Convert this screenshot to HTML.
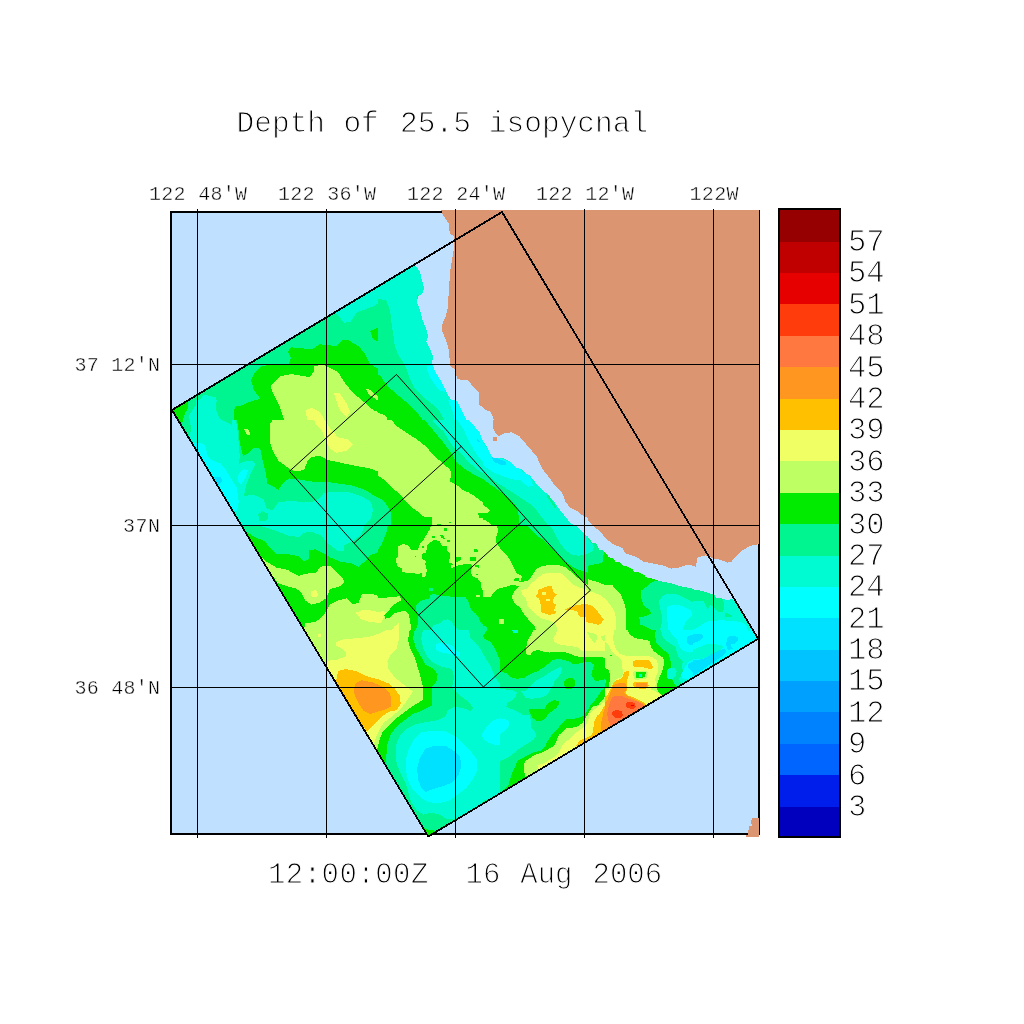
<!DOCTYPE html>
<html><head><meta charset="utf-8"><title>Depth of 25.5 isopycnal</title>
<style>html,body{margin:0;padding:0;background:#fff}svg{display:block}text{font-family:"Liberation Mono",monospace;fill:#000}</style></head><body>
<svg width="1024" height="1024" viewBox="0 0 1024 1024">
<rect width="1024" height="1024" fill="#fff"/>
<g shape-rendering="crispEdges">
<rect x="171" y="212" width="588" height="622" fill="#BFE0FF"/>
<rect x="170" y="211" width="590" height="2" fill="#000"/><rect x="170" y="833" width="590" height="2" fill="#000"/><rect x="170" y="211" width="2" height="624" fill="#000"/><rect x="758" y="211" width="2" height="624" fill="#000"/>
<defs><clipPath id="dom"><polygon points="172,410 502,212 758.2,638.8 428.2,836.5"/></clipPath>
<clipPath id="t0"><rect x="168" y="210" width="210" height="210"/></clipPath>
<clipPath id="t1"><rect x="378" y="210" width="210" height="210"/></clipPath>
<clipPath id="t2"><rect x="168" y="420" width="210" height="210"/></clipPath>
<clipPath id="t3"><rect x="378" y="420" width="105" height="105"/></clipPath>
<clipPath id="t4"><rect x="483" y="420" width="105" height="105"/></clipPath>
<clipPath id="t5"><rect x="378" y="525" width="105" height="105"/></clipPath>
<clipPath id="t6"><rect x="483" y="525" width="105" height="105"/></clipPath>
<clipPath id="t7"><rect x="290" y="630" width="210" height="210"/></clipPath>
<clipPath id="t8"><rect x="500" y="630" width="105" height="105"/></clipPath>
<clipPath id="t9"><rect x="605" y="630" width="105" height="105"/></clipPath>
<clipPath id="t10"><rect x="500" y="715" width="105" height="105"/></clipPath>
<clipPath id="t11"><rect x="588" y="525" width="105" height="105"/></clipPath>
<clipPath id="t12"><rect x="693" y="525" width="105" height="105"/></clipPath>
<clipPath id="t13"><rect x="693" y="610" width="105" height="105"/></clipPath>
<clipPath id="t14"><rect x="168" y="400" width="64" height="64"/></clipPath>
</defs>
<g clip-path="url(#dom)">
<rect x="171" y="212" width="588" height="622" fill="#00F590"/>
<g clip-path="url(#t0)">
<polygon points="170.1,406.9 187.5,401.7 188.5,407.9 185.4,415.1 182.4,422.1 170.1,422.1" fill="#00EB00"/>
<polygon points="188.5,422.1 194.7,406.9 203.9,394.6 216.2,397.6 217.2,406.9 214.1,422.1" fill="#00FAD2"/>
<polygon points="336.2,313.6 344.4,322.8 350.5,321.8 356.7,312.5 373.1,306.4 380.1,302.3 380.1,283.8 332.1,308.4" fill="#00FAD2"/>
<polygon points="233.6,422.1 234.7,406.9 243.9,404.8 250.0,401.7 260.3,398.7 254.1,390.5 251.1,380.2 255.2,372.0 261.3,365.9 289.0,363.8 291.0,357.7 288.0,351.5 291.0,347.4 299.2,347.8 311.6,349.5 319.8,344.3 330.0,345.4 336.2,346.4 342.3,340.2 348.5,340.2 358.7,346.4 364.9,353.6 370.0,363.8 380.1,370.0 380.1,422.1" fill="#00EB00"/>
<polygon points="370.0,331.0 380.1,326.9 380.1,342.3 373.1,339.2" fill="#00EB00"/>
<polygon points="270.5,386.4 280.8,376.1 291.0,374.1 309.5,377.1 313.6,372.0 314.6,365.9 323.9,364.8 332.1,368.9 338.2,372.0 344.4,382.3 352.6,392.5 364.9,402.8 373.1,410.0 380.1,413.0 380.1,422.1 284.9,422.1 279.8,406.9 272.6,392.5" fill="#BEFF64"/>
<polygon points="365.9,388.4 371.0,390.5 380.1,398.7 380.1,401.7 373.1,397.6 368.0,393.5" fill="#BEFF64"/>
<polygon points="334.1,393.5 339.2,392.5 346.4,402.8 350.5,412.0 346.4,417.1 340.3,411.0 336.2,400.7" fill="#F0FF64"/>
<polygon points="305.4,410.0 311.6,407.9 319.8,412.0 325.9,422.1 307.5,422.1" fill="#F0FF64"/>
</g>
<g clip-path="url(#t1)">
<polygon points="375.9,281.8 375.9,298.6 386.2,300.2 389.3,308.4 390.7,315.0 391.7,325.3 393.4,335.5 394.8,345.8 398.5,355.0 403.6,363.2 407.1,370.4 409.8,378.6 414.9,388.8 421.1,395.0 427.2,400.1 433.4,405.2 439.5,411.4 445.7,422.1 521.6,422.1 521.6,210.0 439.5,210.0" fill="#00FAD2"/>
<polygon points="417.0,295.1 422.1,294.5 421.5,306.4 418.0,303.3" fill="#00F590"/>
<polygon points="427.2,365.7 433.8,365.2 436.9,370.4 440.5,377.5 444.7,386.8 445.1,391.9 439.5,390.3 433.8,383.1 429.7,376.5 427.4,370.4" fill="#00FFFF"/>
<polygon points="448.1,400.1 453.9,400.5 459.0,400.1 464.1,409.3 468.2,417.5 470.3,422.1 454.3,422.1 453.3,413.4 450.2,405.2" fill="#00FFFF"/>
<polygon points="375.9,373.0 381.1,376.5 384.2,381.7 389.3,387.8 395.4,392.9 401.6,398.1 407.7,403.2 412.9,408.3 418.0,413.4 424.1,422.1 375.9,422.1" fill="#00EB00"/>
<polygon points="375.9,412.8 382.1,413.8 386.2,415.9 388.3,422.1 375.9,422.1" fill="#BEFF64"/>
</g>
<g clip-path="url(#t2)">
<polygon points="177.2,417.9 191.0,417.9 190.1,429.2 187.5,436.4 182.4,428.2" fill="#00EB00"/>
<polygon points="196.7,417.9 235.7,417.9 237.7,432.3 238.8,444.6 239.8,456.9 238.8,464.1 245.9,461.0 253.1,461.0 255.2,464.1 250.0,475.4 245.9,485.6 243.9,495.9 254.1,494.9 263.4,499.0 266.4,508.2 272.6,510.2 278.7,502.0 291.0,501.0 303.4,502.0 311.6,502.0 319.8,497.9 323.9,492.8 336.2,491.8 348.5,491.8 362.8,496.9 371.0,502.0 373.1,510.2 371.0,518.4 364.9,524.6 360.8,534.8 352.6,541.0 344.4,545.1 344.4,551.2 338.2,551.2 330.0,545.1 323.9,538.9 319.8,534.8 311.6,531.8 303.4,532.8 299.2,536.9 289.0,535.9 278.7,531.8 266.4,527.7 254.1,524.6 241.8,524.6 229.5,510.2 198.8,454.9 194.7,444.6 193.6,432.3" fill="#00FAD2"/>
<polygon points="258.2,514.3 262.3,511.3 267.5,513.3 268.1,518.4 264.4,521.5 259.3,520.5" fill="#00F590"/>
<polygon points="196.7,453.8 200.8,442.6 205.9,445.6 209.0,456.9 217.2,461.0 225.4,469.2 231.6,479.5 236.7,487.7 238.8,502.0 236.7,511.3 229.5,510.2" fill="#00FFFF"/>
<polygon points="214.1,477.4 220.3,476.4 222.3,481.5 218.2,485.6" fill="#00E1FF"/>
<polygon points="238.8,473.3 243.9,469.2 248.0,470.2 245.9,477.4 240.8,484.6 237.7,481.5" fill="#00FFFF"/>
<polygon points="236.7,417.9 238.8,432.3 239.8,442.6 242.9,455.9 249.0,452.8 254.1,447.7 260.3,448.7 262.3,459.0 265.4,471.3 267.5,483.6 278.7,489.7 282.8,483.6 289.0,478.4 299.2,479.5 311.6,481.5 323.9,481.5 338.2,483.6 352.6,485.6 364.9,489.7 373.1,494.9 380.1,499.0 380.1,417.9" fill="#00EB00"/>
<polygon points="269.5,424.1 274.6,417.9 380.1,417.9 380.1,472.3 369.0,468.2 356.7,466.1 342.3,463.1 328.0,460.0 319.8,455.9 311.6,456.9 307.5,461.0 304.4,469.2 299.2,471.3 291.0,470.2 285.9,466.1 278.7,461.0 272.6,450.8 269.5,440.5" fill="#BEFF64"/>
<polygon points="244.3,429.2 248.0,428.6 250.6,434.4 247.0,435.4" fill="#BEFF64"/>
<polygon points="313.6,417.9 323.9,417.9 330.0,428.2 338.2,437.4 348.5,439.5 352.6,444.6 346.4,450.8 336.2,452.8 330.0,448.7 325.9,440.5 321.8,430.3 315.7,424.1" fill="#F0FF64"/>
<polygon points="243.9,529.7 254.1,536.9 264.4,541.0 270.5,548.2 276.7,554.3 289.0,554.3 299.2,556.4 303.4,561.5 308.5,559.5 309.5,550.2 315.7,549.2 323.9,553.3 330.0,557.4 340.3,561.5 352.6,563.6 358.7,566.6 364.9,561.5 370.0,555.4 380.1,551.2 380.1,632.1 299.2,632.1 229.5,522.5" fill="#00EB00"/>
<polygon points="257.2,552.3 266.4,561.5 276.7,567.7 286.9,569.7 299.2,575.9 305.4,573.8 315.7,572.8 320.8,566.6 330.0,565.6 336.2,571.8 342.3,577.9 344.4,582.0 340.3,586.1 330.0,589.2 325.9,598.4 319.8,602.5 311.6,604.6 305.4,600.5 301.3,592.3 295.1,588.2 286.9,586.1 277.7,583.0 250.0,543.0" fill="#BEFF64"/>
<polygon points="310.5,591.2 315.7,590.2 318.7,594.3 315.7,597.4 311.6,596.4" fill="#F0FF64"/>
<polygon points="303.4,632.1 305.4,623.0 315.7,622.0 323.9,614.8 330.0,604.6 338.2,600.5 346.4,598.4 352.6,604.6 358.7,602.5 361.8,594.3 373.1,594.3 380.1,596.4 380.1,632.1" fill="#BEFF64"/>
<polygon points="355.6,612.8 362.8,609.7 373.1,610.7 380.1,612.8 380.1,623.0 369.0,622.0 360.8,618.9" fill="#F0FF64"/>
</g>
<g clip-path="url(#t3)">
<rect x="378" y="420" width="105" height="105" fill="#00EB00"/>
<polygon points="377.0,419.0 390.8,419.0 396.5,426.2 401.6,429.2 408.8,434.4 415.9,438.5 421.1,442.6 427.2,447.7 431.3,452.8 436.4,457.9 441.6,462.0 445.7,466.1 449.8,469.2 450.8,472.3 450.3,481.5 454.9,484.1 459.0,486.7 463.1,490.2 468.2,492.3 474.4,495.9 479.5,500.0 484.0,503.1 484.0,526.0 431.8,526.0 431.8,517.4 423.1,516.4 419.0,512.3 412.9,508.2 408.8,504.1 404.7,500.0 400.6,494.9 394.4,489.7 388.3,483.6 383.1,479.0 377.0,475.4" fill="#BEFF64"/>
<polygon points="478.0,513.3 482.6,512.8 484.0,517.4 479.5,517.9" fill="#00EB00"/>
<polygon points="448.8,521.5 451.3,521.5 451.3,523.1 448.8,523.1" fill="#00EB00"/>
<polygon points="437.0,524.1 440.5,523.8 440.8,526.0 437.0,526.0" fill="#00EB00"/>
<polygon points="423.6,419.0 427.2,423.1 432.3,429.2 437.5,435.4 443.6,442.6 448.8,449.7 452.9,455.9 455.9,461.0 460.0,465.1 465.2,469.2 470.3,472.3 476.4,475.9 484.0,479.5 484.0,419.0" fill="#00F590"/>
<polygon points="431.3,419.0 437.5,426.2 443.6,431.3 448.8,440.5 453.9,447.7 459.0,451.8 464.1,456.9 468.2,462.0 473.4,466.1 479.5,471.3 484.0,473.3 484.0,419.0" fill="#00FAD2"/>
<polygon points="457.0,419.0 460.0,424.1 464.1,430.3 467.2,437.4 470.3,443.6 474.4,450.8 478.5,456.9 484.0,463.1 484.0,419.0" fill="#00FFFF"/>
<polygon points="475.9,438.5 478.0,439.0 480.0,442.0 478.5,442.0" fill="#00E1FF"/>
<polygon points="377.0,496.9 381.1,499.0 386.2,504.1 389.3,509.2 391.3,514.3 390.8,526.0 377.0,526.0" fill="#00F590"/>
</g>
<g clip-path="url(#t4)">
<rect x="483" y="420" width="105" height="105" fill="#00FAD2"/>
<polygon points="482.0,430.3 482.0,440.5 486.1,446.7 490.2,452.8 492.7,456.9 498.4,457.9 507.6,461.0 512.7,462.0 514.8,466.1 520.9,468.2 523.0,473.3 528.1,473.3 530.2,477.4 533.2,485.6 528.1,486.7 524.0,483.6 520.9,480.5 513.8,479.5 503.5,476.4 493.3,472.3 487.1,468.2 482.0,464.1" fill="#00FFFF"/>
<polygon points="492.2,457.4 496.3,457.9 506.6,462.0 505.6,465.1 500.4,464.6 495.3,462.6 492.7,460.0" fill="#00E1FF"/>
<polygon points="482.0,469.2 488.1,475.4 495.3,481.5 503.5,486.7 511.7,491.8 517.9,495.9 524.0,500.0 530.2,504.1 536.3,510.2 540.4,515.4 544.5,520.5 548.6,526.0 482.0,526.0" fill="#00F590"/>
<polygon points="546.6,494.3 549.7,495.9 553.8,503.1 556.8,508.2 554.8,508.2 550.7,502.0 547.6,497.9" fill="#00F590"/>
<polygon points="482.0,478.4 489.2,483.6 496.3,488.7 503.5,493.8 509.7,499.0 515.8,505.1 518.4,512.3 518.9,526.0 482.0,526.0" fill="#00EB00"/>
<polygon points="482.0,504.1 486.1,507.2 490.2,510.2 487.1,513.3 482.0,513.3" fill="#BEFF64"/>
<polygon points="482.0,519.0 486.1,520.5 490.2,523.6 492.2,526.0 482.0,526.0" fill="#BEFF64"/>
</g>
<g clip-path="url(#t5)">
<rect x="378" y="525" width="105" height="105" fill="#00EB00"/>
<polygon points="377.0,524.0 388.3,524.0 386.7,531.2 384.2,538.3 381.1,545.5 377.0,550.6" fill="#00F590"/>
<polygon points="398.5,546.5 402.6,544.0 407.7,545.0 411.8,550.1 418.0,549.6 420.0,543.5 423.1,540.4 426.2,535.3 429.3,530.1 431.8,524.0 435.4,524.0 434.4,531.2 431.3,536.3 433.4,540.4 429.3,542.9 427.2,545.5 426.2,552.7 422.1,553.7 422.1,558.8 426.2,560.9 425.2,564.0 426.7,570.1 426.2,576.3 422.6,577.3 422.1,572.7 419.0,573.7 408.8,573.2 402.6,572.2 401.6,568.1 397.5,566.0 395.4,558.8 398.0,556.8 397.5,551.7" fill="#BEFF64"/>
<polygon points="431.8,524.0 484.0,524.0 484.0,592.7 481.6,588.6 480.5,582.4 477.5,578.3 472.3,576.3 470.8,571.1 472.3,566.0 470.3,564.0 465.2,564.0 460.0,565.0 455.9,566.0 453.9,567.0 451.3,568.1 451.3,565.0 453.9,564.0 449.3,562.9 449.8,553.7 446.7,550.6 446.7,545.5 441.6,545.5 439.5,541.4 435.4,539.9 433.4,540.4 431.3,536.3 434.4,531.2" fill="#BEFF64"/>
<polygon points="444.1,528.1 447.2,528.1 447.2,530.6 444.1,530.6" fill="#00EB00"/>
<polygon points="440.0,534.7 443.1,535.3 444.7,538.8 441.6,538.3" fill="#00EB00"/>
<polygon points="431.8,535.8 434.9,535.8 434.9,537.8 431.8,537.8" fill="#00EB00"/>
<polygon points="447.2,539.9 449.8,539.9 449.8,541.9 447.2,541.9" fill="#00EB00"/>
<polygon points="473.4,549.1 477.0,549.1 478.0,551.7 474.4,551.7" fill="#00EB00"/>
<polygon points="470.3,557.3 476.4,557.3 476.4,561.4 470.3,560.9" fill="#00EB00"/>
<polygon points="456.4,557.3 461.6,557.0 460.0,560.9 456.4,561.9" fill="#00EB00"/>
<polygon points="474.9,565.0 478.5,565.5 479.0,567.6 475.4,567.0" fill="#00EB00"/>
<polygon points="475.9,573.7 478.0,573.7 478.0,575.2 475.9,575.2" fill="#00EB00"/>
<polygon points="414.6,555.8 415.9,555.8 415.9,557.0 414.6,557.0" fill="#00EB00"/>
<polygon points="422.1,546.0 424.1,546.0 424.1,547.8 422.1,547.8" fill="#00EB00"/>
<polygon points="377.0,597.3 384.2,598.3 390.3,596.8 395.9,596.8 400.0,595.8 401.1,600.4 396.5,602.9 392.4,606.0 389.3,610.1 384.2,615.2 377.0,615.2" fill="#BEFF64"/>
<polygon points="377.0,615.2 384.2,615.2 385.2,618.8 389.3,617.8 394.4,613.2 399.5,611.6 405.7,611.1 408.8,614.2 409.8,619.3 410.8,625.5 411.3,631.0 377.0,631.0" fill="#BEFF64"/>
<polygon points="377.0,612.2 383.1,611.1 386.2,612.2 384.2,615.2 383.1,619.3 381.1,622.4 377.0,623.4" fill="#F0FF64"/>
<polygon points="391.3,631.0 394.4,626.5 398.5,623.4 399.5,626.5 398.5,631.0" fill="#F0FF64"/>
<polygon points="415.9,606.0 419.0,601.9 423.1,599.9 429.3,598.8 430.3,594.7 435.4,594.2 439.5,595.8 445.7,595.8 451.8,596.8 459.0,597.3 465.2,596.8 467.2,599.9 469.3,604.0 471.3,610.1 475.4,613.2 478.5,617.3 480.5,622.4 484.0,624.5 484.0,631.0 415.4,631.0 417.5,625.5 418.0,617.3 416.5,611.1" fill="#00F590"/>
<polygon points="430.3,631.0 433.4,625.5 439.5,623.4 443.6,620.4 447.7,619.3 451.8,621.4 453.9,625.5 460.0,631.0" fill="#00FAD2"/>
<polygon points="429.0,588.1 432.9,588.1 432.9,590.6 429.0,590.6" fill="#00F590"/>
<polygon points="475.9,594.7 480.0,594.9 480.0,596.8 476.4,596.6" fill="#BEFF64"/>
</g>
<g clip-path="url(#t6)">
<rect x="483" y="525" width="105" height="105" fill="#00EB00"/>
<polygon points="482.0,524.0 495.3,524.0 498.4,530.1 496.3,536.3 496.3,542.4 500.4,548.6 506.6,554.7 510.7,560.9 513.8,568.1 516.8,573.2 522.0,576.3 520.9,580.9 516.8,582.4 518.9,586.5 512.7,584.5 506.6,586.5 498.4,588.6 493.3,592.7 491.2,596.8 482.0,597.3" fill="#BEFF64"/>
<polygon points="513.8,578.8 519.4,577.8 519.4,580.9 513.8,581.4" fill="#00EB00"/>
<polygon points="516.8,582.4 522.0,581.9 528.1,580.9 532.2,575.2 536.3,569.1 541.4,566.0 549.7,565.0 558.9,565.0 565.0,567.0 570.2,571.1 575.3,576.3 581.4,580.4 589.0,586.5 589.0,631.0 536.3,631.0 534.3,625.5 529.1,620.4 524.0,614.2 519.9,607.0 514.8,604.0 512.2,598.8 512.7,593.7 515.8,589.6 518.9,586.5" fill="#BEFF64"/>
<polygon points="520.9,590.6 527.1,588.6 531.2,583.4 536.3,579.3 542.5,574.2 548.6,572.7 558.9,572.7 564.0,575.2 568.1,579.3 573.2,584.5 579.4,587.5 589.0,590.6 589.0,631.0 557.9,631.0 556.8,627.5 554.8,623.4 548.6,620.4 542.5,618.8 536.3,615.2 531.2,610.1 527.1,605.0 526.1,598.8 523.0,595.8" fill="#F0FF64"/>
<polygon points="538.4,589.6 544.5,587.5 548.6,586.0 551.7,586.5 553.2,591.7 556.8,594.7 553.8,597.8 552.7,602.9 555.8,604.0 555.3,607.0 553.8,610.1 556.8,612.2 553.8,614.2 548.6,614.7 541.4,612.2 540.9,606.0 539.9,600.9 538.9,598.3 535.3,596.3 538.4,593.7" fill="#FFC000"/>
<polygon points="542.3,592.2 546.1,592.2 546.1,594.9 542.3,594.9" fill="#F0FF64"/>
<polygon points="545.8,599.0 550.2,599.0 550.2,601.1 545.8,601.1" fill="#F0FF64"/>
<polygon points="565.0,609.6 570.2,607.0 575.3,605.5 581.4,604.5 589.0,604.0 589.0,622.4 586.6,621.9 585.5,617.3 581.4,617.3 578.4,615.2 577.3,611.1 572.2,610.1 568.1,610.6" fill="#FFC000"/>
<polygon points="526.1,524.0 531.2,530.1 536.3,535.3 542.5,539.4 548.6,545.5 554.8,551.7 560.9,557.8 567.1,562.9 573.2,567.0 579.4,570.1 589.0,573.2 589.0,524.0" fill="#00F590"/>
<polygon points="548.6,524.0 553.8,531.2 556.8,537.3 560.9,544.5 566.1,550.6 572.2,554.7 578.4,555.8 583.5,554.7 589.0,553.7 589.0,524.0" fill="#00FAD2"/>
<polygon points="499.4,619.3 504.0,618.8 504.0,623.4 499.4,624.5" fill="#BEFF64"/>
<polygon points="482.0,625.0 486.1,626.5 488.1,631.0 482.0,631.0" fill="#00F590"/>
</g>
<g clip-path="url(#t7)">
<rect x="290" y="630" width="210" height="210" fill="#00FAD2"/>
<polygon points="290.0,627.9 423.3,627.9 421.2,638.2 423.3,648.5 427.4,656.7 433.6,662.8 441.8,666.9 452.0,669.0 454.1,677.2 452.0,687.4 460.2,695.6 468.4,701.8 473.5,707.9 470.5,711.0 462.3,707.9 454.1,706.9 447.9,710.0 445.9,716.1 437.7,720.2 425.4,722.3 415.1,724.3 406.9,728.4 400.7,734.6 396.6,742.8 395.6,753.0 396.6,763.3 400.7,773.6 405.9,783.8 408.9,794.1 411.0,802.3 417.1,810.5 423.3,814.6 431.5,812.5 439.7,814.6 445.9,818.7 454.1,819.7 464.3,814.6 474.6,808.4 484.8,800.2 502.1,794.1 502.1,842.1 413.0,842.1 290.0,630.0" fill="#00F590"/>
<polygon points="468.4,627.9 470.5,638.2 478.7,646.4 484.8,656.7 491.0,666.9 495.1,677.2 499.2,683.3 502.1,684.3 502.1,627.9" fill="#00F590"/>
<polygon points="482.8,636.2 488.9,627.9 502.1,627.9 502.1,664.9 498.2,656.7 495.1,648.5 490.0,641.3 484.8,639.2" fill="#00EB00"/>
<polygon points="421.2,826.9 429.5,830.0 437.7,831.0 433.6,837.1 425.4,837.1" fill="#00EB00"/>
<polygon points="290.0,627.9 415.1,627.9 413.0,638.2 416.1,648.5 421.2,656.7 425.4,664.9 433.6,669.0 437.7,674.1 436.6,681.3 431.5,687.4 432.5,697.7 431.5,705.9 423.3,710.0 413.0,714.1 404.8,720.2 396.6,726.4 390.5,734.6 387.4,744.8 386.4,755.1 386.0,764.3 290.0,630.0" fill="#00EB00"/>
<polygon points="290.0,627.9 410.0,627.9 407.9,640.3 411.0,650.5 415.1,658.7 418.2,669.0 421.2,679.2 423.3,688.4 423.3,699.7 413.0,705.9 404.8,712.0 396.6,718.2 388.4,726.4 382.3,732.5 379.2,740.7 377.2,750.0 290.0,630.0" fill="#BEFF64"/>
<polygon points="336.1,642.3 343.3,639.2 357.7,638.2 372.0,636.2 382.3,632.1 388.4,627.9 398.7,627.9 398.7,640.3 396.6,648.5 390.5,654.6 387.4,660.8 388.4,669.0 394.6,677.2 404.8,685.4 413.0,691.5 408.9,697.7 401.8,707.9 392.5,716.1 384.3,722.3 380.2,728.4 376.1,736.6 374.1,743.8 351.5,712.0 324.9,666.9 327.9,660.8 337.2,659.7 345.4,656.7 346.4,652.6 341.3,648.5 336.1,645.4" fill="#F0FF64"/>
<polygon points="317.7,634.1 320.8,633.7 321.2,636.6 318.1,637.0" fill="#F0FF64"/>
<polygon points="338.2,671.0 345.4,669.0 355.6,671.0 365.9,676.1 378.2,679.2 388.4,683.3 394.6,688.4 399.7,695.6 400.7,703.8 396.6,710.0 388.4,712.0 382.3,716.1 376.1,722.3 370.0,728.4 366.9,731.5 335.1,685.4" fill="#FFC000"/>
<polygon points="355.6,683.3 361.8,680.2 372.0,682.3 382.3,686.4 389.5,692.5 391.5,699.7 390.5,706.9 384.3,710.0 376.1,712.0 370.0,714.1 363.8,711.0 359.7,704.9 355.6,697.7 353.6,690.5" fill="#FF9620"/>
<polygon points="421.2,732.5 433.6,730.5 445.9,731.5 456.1,736.6 464.3,744.8 470.5,751.0 476.6,759.2 477.6,769.5 472.5,779.7 466.4,787.9 458.2,794.1 450.0,800.2 439.7,803.3 429.5,802.3 421.2,798.2 413.0,790.0 407.9,779.7 405.9,769.5 405.9,759.2 408.9,748.9 413.0,740.7" fill="#00FFFF"/>
<polygon points="425.4,748.9 433.6,745.9 445.9,745.9 454.1,751.0 460.2,757.1 461.2,767.4 458.2,775.6 452.0,782.8 443.8,785.9 433.6,788.9 425.4,792.0 421.2,787.9 418.2,779.7 417.1,769.5 419.2,759.2" fill="#00E1FF"/>
<polygon points="481.7,734.6 486.9,726.4 493.0,720.2 502.1,718.2 502.1,744.8 495.1,744.8 488.9,742.8 483.8,739.7" fill="#00FFFF"/>
<polygon points="435.6,644.4 441.8,642.3 452.0,645.4 456.1,650.5 460.2,652.6 460.2,656.7 454.1,655.6 447.9,653.6 441.8,652.6 436.6,650.5" fill="#00FFFF"/>
</g>
<g clip-path="url(#t8)">
<rect x="500" y="630" width="105" height="105" fill="#00F590"/>
<polygon points="499.0,629.0 533.8,629.0 530.8,635.1 527.7,640.3 525.6,649.5 526.7,654.6 530.8,654.6 532.8,651.5 537.9,650.0 543.1,651.5 549.2,652.6 557.4,651.5 563.6,652.0 569.7,653.6 575.9,656.1 582.0,657.2 588.2,656.7 606.0,657.7 606.0,661.8 595.4,661.8 590.2,661.8 584.1,662.3 577.9,663.8 573.8,664.4 569.7,661.8 563.6,659.7 557.4,658.7 552.3,660.2 548.2,663.8 543.1,667.9 537.9,671.0 532.8,673.1 528.7,675.1 523.6,678.2 516.4,678.7 511.3,677.2 506.2,673.1 499.0,671.0" fill="#00EB00"/>
<polygon points="585.1,657.2 606.0,657.2 606.0,679.2 600.5,680.2 595.4,681.3 593.8,678.2 591.3,675.1 592.3,671.0 594.3,664.9 590.2,661.8 585.1,662.3" fill="#00EB00"/>
<polygon points="533.8,629.0 530.8,635.1 527.7,640.3 525.6,649.5 526.7,654.6 530.8,654.6 532.8,651.5 537.9,650.0 543.1,651.5 549.2,652.6 557.4,651.5 563.6,652.0 569.7,653.6 575.9,656.1 582.0,657.2 588.2,656.7 606.0,657.7 606.0,629.0" fill="#BEFF64"/>
<polygon points="557.4,629.0 555.9,634.1 553.3,638.2 554.3,642.3 559.5,644.4 565.6,645.4 571.8,646.4 576.9,646.9 581.0,650.5 585.1,651.0 606.0,650.5 606.0,629.0" fill="#F0FF64"/>
<polygon points="587.2,632.1 592.3,633.1 596.4,634.1 597.4,639.2 594.3,643.3 592.3,640.3 589.2,636.2" fill="#BEFF64"/>
<polygon points="601.0,636.2 606.0,635.1 606.0,641.3 602.5,640.3" fill="#BEFF64"/>
<polygon points="532.8,683.8 535.9,680.2 541.0,678.2 546.1,675.1 550.2,672.0 555.4,669.0 560.5,666.9 562.0,669.0 560.5,674.1 557.4,678.2 554.3,681.3 553.3,685.4 550.2,689.5 548.2,693.6 544.1,696.7 539.0,698.2 530.8,698.7 525.6,697.7 522.6,693.6 520.5,691.5 525.6,690.5 529.7,687.4" fill="#00FAD2"/>
<polygon points="499.0,688.4 506.2,689.5 513.3,690.5 516.9,692.5 515.4,697.7 511.3,700.8 507.2,702.8 506.2,706.9 511.3,709.0 516.4,711.0 521.5,714.1 525.6,718.2 529.7,722.3 531.8,728.4 533.8,736.0 499.0,736.0" fill="#00FAD2"/>
<polygon points="499.0,719.2 504.1,718.7 508.2,720.2 509.2,724.3 507.2,728.4 504.1,731.5 499.0,732.5" fill="#00FFFF"/>
<polygon points="512.3,629.0 518.5,629.0 517.9,633.1 512.8,633.1" fill="#00FAD2"/>
<polygon points="564.1,681.3 566.7,678.7 571.8,677.7 574.9,680.2 574.9,685.4 571.8,689.0 566.7,689.5 564.1,685.9" fill="#00EB00"/>
<polygon points="529.2,709.5 535.9,709.0 541.0,709.5 545.1,708.4 546.1,704.9 550.2,701.8 554.3,700.2 558.4,700.8 559.0,703.8 556.4,707.9 552.3,711.0 548.2,714.1 546.1,719.2 541.0,721.3 536.9,720.2 532.8,716.1 529.7,713.1" fill="#00EB00"/>
<polygon points="550.2,736.0 555.4,730.5 560.5,726.4 563.6,721.3 567.7,719.2 573.8,719.7 580.0,718.2 584.1,715.1 587.2,711.0 590.2,705.9 594.3,700.8 598.4,695.6 601.5,690.5 606.0,687.4 606.0,736.0" fill="#00EB00"/>
<polygon points="560.5,736.0 565.6,731.5 571.8,728.4 577.9,725.4 582.0,722.3 585.1,719.2 586.1,717.2 589.2,712.0 592.3,706.9 598.4,704.9 602.5,699.7 606.0,695.6 606.0,736.0" fill="#BEFF64"/>
<polygon points="571.8,736.0 577.9,728.4 583.1,722.3 586.1,719.2 589.2,715.1 592.3,711.0 596.4,707.9 601.5,703.8 606.0,700.8 606.0,736.0" fill="#F0FF64"/>
<polygon points="592.3,736.0 593.3,722.3 595.4,718.2 598.4,715.1 601.5,711.0 603.6,706.9 606.0,704.9 606.0,736.0" fill="#FFC000"/>
<polygon points="601.0,736.0 601.5,722.3 602.5,715.1 604.6,709.0 606.0,706.9 606.0,736.0" fill="#FF9620"/>
</g>
<g clip-path="url(#t9)">
<rect x="605" y="630" width="105" height="105" fill="#BEFF64"/>
<polygon points="627.0,629.0 629.6,634.1 633.7,637.2 638.8,639.2 646.0,639.7 649.6,641.3 651.1,647.4 654.2,651.5 658.3,654.6 663.4,657.7 664.0,663.8 662.4,671.0 659.3,677.2 657.3,683.3 656.8,689.5 658.3,691.5 662.4,695.6 711.0,695.6 711.0,629.0" fill="#00EB00"/>
<polygon points="655.8,629.0 655.2,636.2 656.3,642.3 660.4,647.4 664.5,650.5 668.6,654.6 670.6,660.8 670.6,669.0 671.7,676.1 672.7,681.3 675.8,685.4 678.8,687.4 711.0,688.4 711.0,629.0" fill="#00F590"/>
<polygon points="660.9,629.0 662.4,636.2 666.5,641.3 671.7,644.4 675.8,647.4 676.8,652.6 678.8,657.7 682.9,660.8 681.9,665.9 682.9,671.0 680.9,676.1 678.8,679.2 680.9,682.3 684.0,683.8 711.0,685.4 711.0,629.0" fill="#00FAD2"/>
<polygon points="666.5,671.0 668.6,668.5 674.7,667.9 676.8,671.0 675.8,676.1 672.7,679.2 668.6,679.2 666.5,676.1" fill="#00FAD2"/>
<polygon points="668.6,629.0 671.7,634.1 676.8,639.2 678.8,645.4 682.9,650.5 689.1,652.6 695.2,651.5 701.4,650.5 707.5,648.5 711.0,647.4 711.0,629.0" fill="#00FFFF"/>
<polygon points="687.0,637.2 691.1,635.1 697.3,634.1 702.4,634.6 702.4,638.2 699.3,642.3 695.2,645.4 690.1,645.4 687.0,642.3" fill="#00E1FF"/>
<polygon points="687.0,663.8 690.1,660.8 695.2,659.7 701.4,659.7 706.5,658.7 711.0,657.7 711.0,671.0 697.3,675.1 692.2,678.2 687.0,679.2 682.9,678.2 680.9,675.1 682.9,671.0 685.0,666.9" fill="#00FFFF"/>
<polygon points="688.1,663.8 692.2,661.8 697.3,661.8 702.4,662.8 707.5,662.8 711.0,663.8 711.0,667.9 705.5,670.0 700.4,672.0 695.2,673.1 691.1,671.0 688.1,667.9" fill="#00E1FF"/>
<polygon points="604.0,629.0 614.7,629.0 613.2,636.2 613.7,643.3 616.3,649.5 619.4,653.6 625.5,655.6 635.8,656.1 646.0,655.6 651.1,656.7 656.3,659.7 658.3,664.9 658.3,671.0 656.3,675.1 655.2,679.2 656.3,684.3 654.2,687.4 650.1,689.0 654.2,690.5 659.3,693.6 662.4,695.6 660.4,697.7 646.0,706.4 605.0,731.0 604.0,731.0 604.0,687.4 608.1,690.5 610.1,687.4 613.2,683.3 616.3,679.2 621.4,677.2 623.5,673.1 622.4,669.0 621.9,663.8 621.4,659.7 619.4,657.7 615.3,654.6 611.2,650.5 608.1,644.4 604.0,640.3" fill="#F0FF64"/>
<polygon points="633.7,670.5 647.0,670.5 648.1,673.1 646.0,679.2 634.7,679.7 633.2,675.1" fill="#BEFF64"/>
<polygon points="635.8,672.0 646.0,671.8 644.5,677.2 640.4,678.0 635.8,677.7" fill="#00EB00"/>
<polygon points="639.4,673.6 642.4,673.6 641.9,676.7 639.4,676.7" fill="#00FAD2"/>
<polygon points="604.0,667.9 608.1,669.0 609.6,673.1 609.6,681.3 608.6,687.4 604.0,687.9" fill="#00EB00"/>
<polygon points="604.0,680.2 606.0,680.2 606.0,683.3 604.0,683.3" fill="#00FAD2"/>
<polygon points="610.1,654.6 611.7,654.6 611.7,655.8 610.1,655.8" fill="#00EB00"/>
<polygon points="632.7,661.8 635.8,659.7 648.1,659.7 651.1,662.8 653.7,667.9 650.1,669.0 644.0,667.4 637.8,666.9 633.2,666.4" fill="#FFC000"/>
<polygon points="632.7,683.3 635.8,681.8 648.1,682.3 648.6,685.4 647.0,688.4 640.9,689.0 635.8,687.4 633.2,685.9" fill="#FFC000"/>
<polygon points="635.8,682.8 647.0,682.8 647.6,686.4 639.9,687.4 635.8,686.4" fill="#FF9620"/>
<polygon points="624.0,672.0 628.6,671.0 629.6,674.1 627.6,678.2 626.7,683.3 627.4,688.4 625.5,693.1 628.6,695.6 633.7,697.2 638.8,699.7 644.0,702.3 647.0,705.4 644.0,707.4 605.0,731.0 604.0,731.0 604.0,696.7 607.1,695.6 609.1,691.5 612.2,685.4 615.3,680.8 620.4,679.2 622.9,676.1" fill="#FFC000"/>
<polygon points="613.2,684.9 620.4,682.8 626.3,683.8 626.7,688.4 624.5,692.5 627.6,696.1 632.7,698.2 637.8,700.8 642.9,703.3 645.5,706.4 605.0,731.0 604.0,731.0 604.0,703.8 607.1,700.8 609.1,695.6 611.2,690.5" fill="#FF9620"/>
<polygon points="614.7,695.6 621.4,695.6 625.5,697.7 631.7,699.7 637.8,701.8 642.9,704.3 645.0,706.7 611.2,727.4 608.6,721.3 607.1,714.1 608.1,707.9 610.1,701.8 612.2,697.7" fill="#FF7840"/>
<polygon points="625.5,702.8 629.6,701.8 634.7,702.8 635.8,706.9 633.7,709.0 628.6,708.4 625.5,705.9" fill="#FF3C0C"/>
<polygon points="630.6,704.9 633.7,704.9 633.7,706.4 630.6,706.4" fill="#E60000"/>
<polygon points="611.7,712.0 616.3,710.0 621.4,711.0 622.9,715.1 620.4,718.2 615.3,718.2 612.2,715.1" fill="#FF3C0C"/>
</g>
<g clip-path="url(#t10)">
<rect x="500" y="715" width="105" height="105" fill="#00F590"/>
<polygon points="499.0,714.0 529.7,714.0 530.8,721.2 530.8,727.3 534.9,731.4 536.4,735.5 533.8,739.6 530.8,741.7 525.6,744.7 520.5,747.8 515.4,751.9 510.3,756.0 505.1,759.1 499.0,761.1" fill="#00FAD2"/>
<polygon points="499.0,718.1 504.1,719.1 508.2,720.1 509.2,724.2 507.2,728.3 504.1,731.4 499.0,734.5" fill="#00FFFF"/>
<polygon points="530.2,714.0 548.2,714.0 545.1,719.1 541.0,721.2 536.9,721.2 532.8,718.1" fill="#00EB00"/>
<polygon points="508.2,785.8 510.3,778.6 512.3,772.4 515.4,766.3 517.4,761.1 522.6,758.1 527.7,755.0 533.8,751.9 541.0,750.9 545.1,746.8 547.2,741.7 551.3,735.5 555.4,731.4 559.5,726.3 563.6,722.2 566.7,719.1 571.8,719.1 577.9,718.1 583.1,716.0 585.1,714.0 606.0,714.0 606.0,731.4 500.0,794.0" fill="#00EB00"/>
<polygon points="525.1,776.5 524.1,770.4 523.6,765.2 525.6,761.1 529.7,758.1 534.9,755.0 541.0,752.9 547.2,749.9 552.3,746.8 555.4,743.7 557.4,738.6 559.5,734.5 563.6,731.4 566.7,728.3 571.8,727.8 577.9,726.3 582.0,723.2 585.1,719.1 587.2,714.0 606.0,714.0 606.0,731.4 524.6,777.5" fill="#BEFF64"/>
<polygon points="537.9,768.3 537.4,765.2 543.1,763.7 549.2,760.1 555.4,756.0 558.4,752.9 561.5,746.8 564.6,742.7 569.7,738.6 573.8,734.5 577.9,731.4 582.0,728.3 586.1,725.3 588.2,720.1 590.2,714.0 606.0,714.0 606.0,731.4 539.0,769.3" fill="#F0FF64"/>
<polygon points="575.9,745.8 579.0,741.7 582.0,739.1 585.1,738.6 589.2,736.5 592.3,734.5 593.3,728.3 594.3,721.2 596.4,717.1 598.4,714.0 606.0,714.0 606.0,731.4 576.9,746.8" fill="#FFC000"/>
<polygon points="601.0,731.4 601.5,721.2 602.5,717.1 603.6,714.0 606.0,714.0 606.0,730.4" fill="#FF9620"/>
</g>
<g clip-path="url(#t11)">
<rect x="588" y="525" width="105" height="105" fill="#00EB00"/>
<polygon points="587.0,536.3 592.1,542.4 596.2,543.5 599.3,549.6 603.9,550.6 603.4,556.8 602.4,562.9 594.2,564.5 587.0,566.0" fill="#00F590"/>
<polygon points="587.0,538.3 591.1,542.4 594.2,546.5 592.1,551.7 587.0,553.7" fill="#00FAD2"/>
<polygon points="587.0,578.8 592.1,580.4 598.3,582.4 604.4,584.5 612.6,585.5 616.7,590.6 620.8,594.7 623.9,601.9 625.9,609.1 626.5,617.3 625.9,631.0 587.0,631.0" fill="#BEFF64"/>
<polygon points="587.0,591.7 593.1,592.2 599.3,594.7 605.4,598.8 610.6,605.0 614.7,612.2 616.2,619.3 616.2,631.0 587.0,631.0" fill="#F0FF64"/>
<polygon points="587.0,604.0 592.1,606.0 597.2,611.1 601.3,616.3 603.9,619.3 601.3,623.4 598.3,625.0 593.1,623.4 587.0,622.4" fill="#FFC000"/>
<polygon points="641.3,590.6 645.4,587.5 650.5,583.4 655.7,580.9 659.8,580.4 662.9,581.9 670.0,582.9 677.2,585.0 684.4,586.0 690.5,587.0 694.0,588.6 694.0,631.0 653.6,631.0 647.5,627.5 640.3,624.5 639.3,617.3 645.4,616.3 651.6,613.2 648.5,609.1 643.4,605.0 641.3,598.8" fill="#00F590"/>
<polygon points="658.8,600.9 662.9,595.8 668.0,593.7 675.2,593.7 680.3,595.8 686.4,598.8 694.0,602.9 694.0,631.0 659.8,631.0 661.8,622.4 661.8,615.2 659.8,607.0" fill="#00FAD2"/>
<polygon points="667.0,607.0 672.1,605.0 678.2,605.0 684.4,607.0 690.5,610.1 692.6,614.2 689.5,618.3 685.4,622.4 683.4,627.5 683.4,631.0 668.0,631.0 667.5,622.4 667.0,615.2" fill="#00FFFF"/>
<polygon points="587.0,536.3 592.1,542.4 596.2,543.5 599.3,549.6 604.4,550.6 608.5,556.8 613.6,558.8 615.7,561.9 620.8,562.4 622.9,566.0 631.1,566.5 634.1,572.2 643.4,572.7 645.4,577.3 653.6,578.3 655.7,580.4 659.8,580.4 662.9,581.9 670.0,582.9 677.2,585.0 684.4,586.0 690.5,587.0 694.0,588.6 694.0,524.0 587.0,524.0" fill="#BFE0FF"/>
</g>
<g clip-path="url(#t12)">
<rect x="693" y="525" width="105" height="105" fill="#00FAD2"/>
<polygon points="692.0,589.1 697.1,590.1 703.3,591.1 709.4,592.7 713.5,593.7 716.6,598.3 722.7,598.3 723.8,602.9 723.8,610.1 719.7,613.2 716.6,611.1 713.5,607.0 710.4,605.0 707.4,609.1 705.3,605.0 703.3,600.9 698.1,600.9 692.0,600.4" fill="#00F590"/>
<polygon points="725.3,612.2 727.9,613.2 732.0,615.2 731.5,616.8 725.3,616.8" fill="#00F590"/>
<polygon points="692.0,627.5 696.1,626.5 701.2,623.4 707.4,621.4 713.5,620.4 719.7,620.9 726.8,621.9 734.0,623.4 740.2,625.0 746.3,626.5 750.4,631.0 692.0,631.0" fill="#00FFFF"/>
<polygon points="692.0,589.1 697.1,590.1 703.3,591.1 709.4,592.7 713.5,593.7 716.6,598.3 722.7,598.3 726.8,600.4 732.0,598.8 737.1,604.0 799.0,604.0 799.0,524.0 692.0,524.0" fill="#BFE0FF"/>
</g>
<g clip-path="url(#t13)">
<rect x="693" y="610" width="105" height="105" fill="#00FFFF"/>
<polygon points="692.0,609.0 741.2,609.0 748.4,621.3 750.4,630.5 748.4,631.5 746.3,625.4 742.2,622.3 736.1,621.3 728.9,620.8 721.7,620.3 713.5,620.8 706.3,621.8 702.2,624.4 698.1,627.4 692.0,630.5" fill="#00FAD2"/>
<polygon points="716.6,609.0 723.8,609.0 722.7,611.5 717.6,611.5" fill="#00F590"/>
<polygon points="725.3,612.6 728.4,613.6 732.0,615.6 731.5,616.7 725.3,616.7" fill="#00F590"/>
<polygon points="692.0,634.6 697.1,633.6 702.2,634.1 703.3,636.7 701.2,639.7 697.1,641.8 692.0,643.8" fill="#00E1FF"/>
<polygon points="726.8,638.7 728.9,636.1 734.0,635.6 737.6,637.2 737.6,640.8 735.0,643.8 731.5,644.4 730.9,646.9 733.0,649.0 727.9,650.0 726.3,644.9" fill="#00E1FF"/>
<polygon points="692.0,650.0 697.1,647.9 703.3,645.4 708.4,643.8 715.6,644.4 721.7,644.9 723.8,646.9 720.7,650.0 715.6,652.0 710.4,655.1 705.3,658.2 699.2,659.2 692.0,659.2" fill="#00FAD2"/>
<polygon points="692.0,660.2 699.2,659.7 705.3,658.2 710.4,655.1 715.6,652.0 720.7,650.0 723.8,649.0 726.8,651.0 723.8,655.1 692.0,676.7" fill="#00E1FF"/>
</g>
<g clip-path="url(#t14)">
<rect x="168" y="400" width="64" height="64" fill="#00FAD2"/>
<polygon points="167.4,399.4 196.4,399.4 195.5,405.6 191.8,411.2 189.2,415.0 189.6,420.6 190.8,426.2 190.8,431.2 189.6,435.0 188.0,437.5 167.4,437.5" fill="#00F590"/>
<polygon points="167.4,399.4 188.0,399.4 188.0,408.1 185.5,412.5 183.6,417.5 182.7,421.2 181.4,424.7 167.4,425.0" fill="#00EB00"/>
<polygon points="217.4,399.4 215.5,405.0 215.5,409.4 218.0,414.4 219.9,418.8 224.2,421.2 228.0,423.1 232.6,425.6 232.6,399.4" fill="#00F590"/>
<polygon points="193.0,443.1 199.2,442.8 203.6,443.8 206.1,447.5 206.8,453.1 209.2,458.1 214.2,461.2 219.9,463.1 224.2,464.6 193.0,464.6" fill="#00FFFF"/>
</g>
<polygon points="414.9,265.0 420.0,271.5 421.1,277.7 424.1,287.9 422.1,294.1 418.0,296.1 417.0,302.3 420.0,310.5 422.1,318.7 426.2,328.9 428.2,337.1 426.2,341.2 430.3,349.5 433.4,357.7 431.7,362.8 435.4,372.0 440.5,380.2 445.7,390.5 450.8,399.7 457.0,400.7 460.0,406.9 464.1,415.1 466.6,420.0 468.2,420.0 474.4,426.2 479.5,432.3 482.6,440.5 486.7,446.7 490.8,454.9 492.8,457.9 503.1,457.9 509.2,461.0 515.4,467.2 521.6,469.2 525.7,473.3 529.8,475.4 533.9,480.5 538.0,485.6 542.1,489.7 548.2,494.9 554.4,502.0 558.5,508.2 562.6,513.3 566.7,518.4 570.8,523.6 576.9,526.6 583.1,532.8 588.0,536.9 588.0,536.9 596.2,543.0 602.4,549.2 608.5,556.4 618.8,561.5 629.0,567.7 639.3,572.8 649.5,577.9 659.8,581.0 670.0,583.0 680.3,586.1 690.5,588.2 702.8,591.2 713.1,594.3 721.3,598.4 727.5,599.4 733.6,598.4 743.9,596.4 813.6,604.6 813.6,153.4 403.4,153.4" fill="#BFE0FF"/>
</g>
<polygon points="441.0,210.0 443.6,216.2 448.8,223.3 449.8,233.6 454.3,236.7 453.5,251.0 450.2,271.5 448.8,292.0 447.7,308.4 445.7,316.6 442.0,324.8 442.0,331.0 445.7,339.2 448.8,349.5 450.2,365.9 455.5,370.0 457.0,379.2 468.2,380.2 474.4,388.4 478.9,392.5 479.5,404.8 485.7,410.0 490.8,412.0 493.9,420.0 492.8,420.0 492.8,428.2 495.9,433.3 499.0,436.4 504.1,433.3 511.3,432.3 519.5,436.4 525.7,443.6 531.8,450.8 536.9,456.9 540.0,464.1 544.1,471.3 549.2,477.4 553.3,483.6 558.5,488.7 562.6,493.8 565.6,502.0 569.7,507.2 575.9,510.2 581.0,514.3 585.1,516.4 588.0,518.4 588.0,520.5 594.2,526.6 600.3,531.8 605.4,537.9 612.6,544.1 622.9,548.2 624.9,553.3 635.2,556.4 643.4,561.5 653.6,563.6 663.9,565.6 671.1,568.7 678.2,567.7 688.5,564.6 695.7,566.6 697.7,557.4 705.9,555.4 713.1,558.4 719.2,559.5 727.5,562.5 731.6,561.5 740.8,551.2 750.0,546.1 758.2,544.1 759.2,544.1 759.2,210.0" fill="#DB9570"/>
<polygon points="492.8,437.4 496.5,437.0 496.9,440.5 493.3,440.9" fill="#DB9570"/>
<polygon points="752.0,818.0 759.0,818.0 759.0,837.0 746.0,837.0 746.0,835.0 748.0,835.0 748.0,830.0 749.0,830.0 749.0,826.0 752.0,826.0 752.0,824.0 751.0,824.0 751.0,820.0 752.0,820.0" fill="#DB9570"/>
<rect x="759" y="210" width="1" height="336" fill="#000"/>
<rect x="197" y="209" width="1" height="629" fill="#000"/>
<rect x="326" y="209" width="1" height="629" fill="#000"/>
<rect x="455" y="209" width="1" height="629" fill="#000"/>
<rect x="584" y="209" width="1" height="629" fill="#000"/>
<rect x="713" y="209" width="1" height="629" fill="#000"/>
<rect x="170" y="364" width="590" height="1" fill="#000"/>
<rect x="170" y="525" width="590" height="1" fill="#000"/>
<rect x="170" y="687" width="590" height="1" fill="#000"/>
</g>
<polygon points="172,410 502,212 758.2,638.8 428.2,836.5" fill="none" stroke="#000" stroke-width="1.75" stroke-linejoin="miter" shape-rendering="crispEdges"/>
<polygon points="396.5,374.5 289.4,471.3 483.4,687.0 590.5,590.2" fill="none" stroke="#000" stroke-width="1"/>
<line x1="461.2" y1="446.4" x2="354.1" y2="543.2" stroke="#000" stroke-width="1"/>
<line x1="525.8" y1="518.3" x2="418.7" y2="615.1" stroke="#000" stroke-width="1"/>
<g shape-rendering="crispEdges">
<rect x="779" y="210" width="61" height="32" fill="#960000"/>
<rect x="779" y="242" width="61" height="31" fill="#C00000"/>
<rect x="779" y="273" width="61" height="31" fill="#E60000"/>
<rect x="779" y="304" width="61" height="32" fill="#FF3C0C"/>
<rect x="779" y="336" width="61" height="31" fill="#FF7840"/>
<rect x="779" y="367" width="61" height="32" fill="#FF9620"/>
<rect x="779" y="399" width="61" height="31" fill="#FFC000"/>
<rect x="779" y="430" width="61" height="31" fill="#F0FF64"/>
<rect x="779" y="461" width="61" height="32" fill="#BEFF64"/>
<rect x="779" y="493" width="61" height="31" fill="#00EB00"/>
<rect x="779" y="524" width="61" height="32" fill="#00F590"/>
<rect x="779" y="556" width="61" height="31" fill="#00FAD2"/>
<rect x="779" y="587" width="61" height="31" fill="#00FFFF"/>
<rect x="779" y="618" width="61" height="32" fill="#00E1FF"/>
<rect x="779" y="650" width="61" height="31" fill="#00C3FF"/>
<rect x="779" y="681" width="61" height="31" fill="#00A0FF"/>
<rect x="779" y="712" width="61" height="32" fill="#0082FF"/>
<rect x="779" y="744" width="61" height="31" fill="#0064FF"/>
<rect x="779" y="775" width="61" height="32" fill="#001EEB"/>
<rect x="779" y="807" width="61" height="29" fill="#0000BE"/>
<rect x="778" y="208" width="63" height="2" fill="#000"/><rect x="778" y="836" width="63" height="2" fill="#000"/><rect x="778" y="208" width="2" height="630" fill="#000"/><rect x="839" y="208" width="2" height="630" fill="#000"/>
</g>
<text x="848" y="250.99" font-size="30.5" text-anchor="start" stroke="#fff" stroke-width="1.07">57</text>
<text x="848" y="282.38" font-size="30.5" text-anchor="start" stroke="#fff" stroke-width="1.07">54</text>
<text x="848" y="313.77" font-size="30.5" text-anchor="start" stroke="#fff" stroke-width="1.07">51</text>
<text x="848" y="345.16" font-size="30.5" text-anchor="start" stroke="#fff" stroke-width="1.07">48</text>
<text x="848" y="376.55" font-size="30.5" text-anchor="start" stroke="#fff" stroke-width="1.07">45</text>
<text x="848" y="407.94" font-size="30.5" text-anchor="start" stroke="#fff" stroke-width="1.07">42</text>
<text x="848" y="439.33" font-size="30.5" text-anchor="start" stroke="#fff" stroke-width="1.07">39</text>
<text x="848" y="470.72" font-size="30.5" text-anchor="start" stroke="#fff" stroke-width="1.07">36</text>
<text x="848" y="502.11" font-size="30.5" text-anchor="start" stroke="#fff" stroke-width="1.07">33</text>
<text x="848" y="533.5" font-size="30.5" text-anchor="start" stroke="#fff" stroke-width="1.07">30</text>
<text x="848" y="564.89" font-size="30.5" text-anchor="start" stroke="#fff" stroke-width="1.07">27</text>
<text x="848" y="596.28" font-size="30.5" text-anchor="start" stroke="#fff" stroke-width="1.07">24</text>
<text x="848" y="627.67" font-size="30.5" text-anchor="start" stroke="#fff" stroke-width="1.07">21</text>
<text x="848" y="659.06" font-size="30.5" text-anchor="start" stroke="#fff" stroke-width="1.07">18</text>
<text x="848" y="690.45" font-size="30.5" text-anchor="start" stroke="#fff" stroke-width="1.07">15</text>
<text x="848" y="721.84" font-size="30.5" text-anchor="start" stroke="#fff" stroke-width="1.07">12</text>
<text x="848" y="753.23" font-size="30.5" text-anchor="start" stroke="#fff" stroke-width="1.07">9</text>
<text x="848" y="784.62" font-size="30.5" text-anchor="start" stroke="#fff" stroke-width="1.07">6</text>
<text x="848" y="816.01" font-size="30.5" text-anchor="start" stroke="#fff" stroke-width="1.07">3</text>
<text y="132.4" font-size="29.5" stroke="#fff" stroke-width="1.03"><tspan x="236.54">Depth </tspan><tspan x="343.40">of </tspan><tspan x="400.09">25.5 </tspan><tspan x="488.84">isopycnal</tspan></text>
<text y="882.6" font-size="29" stroke="#fff" stroke-width="1.02"><tspan x="267.88" letter-spacing="0.49">12:00:00Z </tspan><tspan x="465.60">16 </tspan><tspan x="520.30">Aug </tspan><tspan x="592.49">2006</tspan></text>
<text x="149" y="200.3" font-size="20" text-anchor="start" stroke="#fff" stroke-width="0.45" textLength="98" lengthAdjust="spacing">122 48'W</text>
<text x="278" y="200.3" font-size="20" text-anchor="start" stroke="#fff" stroke-width="0.45" textLength="98" lengthAdjust="spacing">122 36'W</text>
<text x="407" y="200.3" font-size="20" text-anchor="start" stroke="#fff" stroke-width="0.45" textLength="98" lengthAdjust="spacing">122 24'W</text>
<text x="536" y="200.3" font-size="20" text-anchor="start" stroke="#fff" stroke-width="0.45" textLength="98" lengthAdjust="spacing">122 12'W</text>
<text x="689.5" y="200.3" font-size="20" text-anchor="start" stroke="#fff" stroke-width="0.45" textLength="49" lengthAdjust="spacing">122W</text>
<text x="74.5" y="371.1" font-size="20" text-anchor="start" stroke="#fff" stroke-width="0.45" textLength="85.5" lengthAdjust="spacing">37 12'N</text>
<text x="123" y="532.4" font-size="20" text-anchor="start" stroke="#fff" stroke-width="0.45" textLength="37" lengthAdjust="spacing">37N</text>
<text x="74.5" y="694.1" font-size="20" text-anchor="start" stroke="#fff" stroke-width="0.45" textLength="85.5" lengthAdjust="spacing">36 48'N</text>
</svg></body></html>
